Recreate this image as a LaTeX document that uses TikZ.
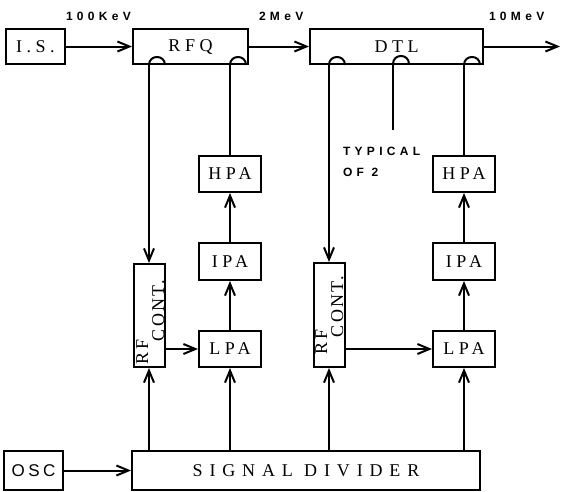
\documentclass[tikz,border=0pt]{standalone}
\usepackage{fontspec}
\setmainfont{Liberation Serif}
\newfontfamily\boxfont[LetterSpace=25]{Liberation Serif}
\newfontfamily\sdfont[LetterSpace=38]{Liberation Serif}
\newfontfamily\rotfont[LetterSpace=12]{Liberation Serif}
\newfontfamily\oscfont[LetterSpace=20]{Liberation Sans}
\newfontfamily\lblfont[LetterSpace=36]{Liberation Sans}
\usetikzlibrary{arrows.meta,calc}
\begin{document}
\begin{tikzpicture}[x=1pt,y=-1pt,line width=2pt,
  blk/.style={draw,inner sep=0pt,font=\boxfont\fontsize{18}{21}\selectfont},
  arr/.style={-{Straight Barb[length=12pt,width=10pt]}},
  lbl/.style={inner sep=0pt,anchor=base west,font=\lblfont\bfseries\fontsize{12}{14}\selectfont},
  rot/.style={inner sep=0pt,rotate=90,anchor=base west,font=\rotfont\fontsize{18}{21}\selectfont}]
\useasboundingbox (0,0) rectangle (562,491);
% top row
\node[blk,minimum width=59pt,minimum height=35pt] (is) at (35.5,46.5) {I.S.};
\node[blk,minimum width=115pt,minimum height=35pt] (rfq) at (190.5,46.5) {RFQ};
\node[blk,minimum width=173pt,minimum height=35pt] (dtl) at (396.5,46.5) {DTL};
% left chain
\node[blk,minimum width=62pt,minimum height=36pt] (hpa1) at (230,174) {HPA};
\node[blk,minimum width=62pt,minimum height=37pt] (ipa1) at (230,261.5) {IPA};
\node[blk,minimum width=62pt,minimum height=36pt] (lpa1) at (230,349) {LPA};
\node[draw,inner sep=0pt,minimum width=31pt,minimum height=103pt] (rfc1) at (149,315.5) {};
% right chain
\node[blk,minimum width=62pt,minimum height=36pt] (hpa2) at (464,174) {HPA};
\node[blk,minimum width=62pt,minimum height=37pt] (ipa2) at (464,261.5) {IPA};
\node[blk,minimum width=62pt,minimum height=36pt] (lpa2) at (464,349) {LPA};
\node[draw,inner sep=0pt,minimum width=31pt,minimum height=104pt] (rfc2) at (329,315) {};
% bottom
\node[blk,font=\oscfont\fontsize{17}{20}\selectfont,minimum width=59pt,minimum height=39pt] (osc) at (33.5,470.5) {OSC};
\node[blk,font=\sdfont\fontsize{18}{21}\selectfont,minimum width=348pt,minimum height=39pt] (sd) at (306,470.5) {SIGNAL DIVIDER};
% RF CONT. texts
\node[rot] (rfa) at (148,365) {RF};
\node[rot] (conta) at (164,342) {CONT.};
\node[rot] (rfb) at (327,355) {RF};
\node[rot] (contb) at (343,338) {CONT.};
% labels
\node[lbl] (e1) at (65,20) {100KeV};
\node[lbl] (e2) at (258,20) {2MeV};
\node[lbl] (e3) at (488,20) {10MeV};
\node[lbl] (typ) at (342,155) {TYPICAL};
\node[lbl] (of2) at (342,176) {OF 2};
% bump coordinates
\coordinate (b1) at (rfc1.north |- rfq.south);
\coordinate (b2) at (hpa1.north |- rfq.south);
\coordinate (b3) at (rfc2.north |- dtl.south);
\coordinate (b4) at (393,64);
\coordinate (b5) at (hpa2.north |- dtl.south);
\coordinate (stub) at (393,130);
\coordinate (out) at (560,46.5);
\foreach \c in {b1,b2,b3,b4,b5}
  \draw (\c) .. controls ($(\c)+(0,-10.7)$) and ($(\c)+(16,-10.7)$) .. ($(\c)+(16,0)$);
% beam line
\draw[arr] (is) -- (rfq);
\draw[arr] (rfq) -- (dtl);
\draw[arr] (dtl) -- (out);
% couplers
\draw[arr] (b1) -- (rfc1.north);
\draw (hpa1.north) -- (b2);
\draw[arr] (b3) -- (rfc2.north);
\draw (b4) -- (stub);
\draw (hpa2.north) -- (b5);
% amplifier chains
\draw[arr] (lpa1) -- (ipa1);
\draw[arr] (ipa1) -- (hpa1);
\draw[arr] (lpa2) -- (ipa2);
\draw[arr] (ipa2) -- (hpa2);
\draw[arr] (rfc1.east |- lpa1) -- (lpa1.west);
\draw[arr] (rfc2.east |- lpa2) -- (lpa2.west);
% divider outputs
\draw[arr] (sd.north -| rfc1) -- (rfc1.south);
\draw[arr] (sd.north -| lpa1) -- (lpa1.south);
\draw[arr] (sd.north -| rfc2) -- (rfc2.south);
\draw[arr] (sd.north -| lpa2) -- (lpa2.south);
\draw[arr] (osc) -- (sd);
\end{tikzpicture}
\end{document}
